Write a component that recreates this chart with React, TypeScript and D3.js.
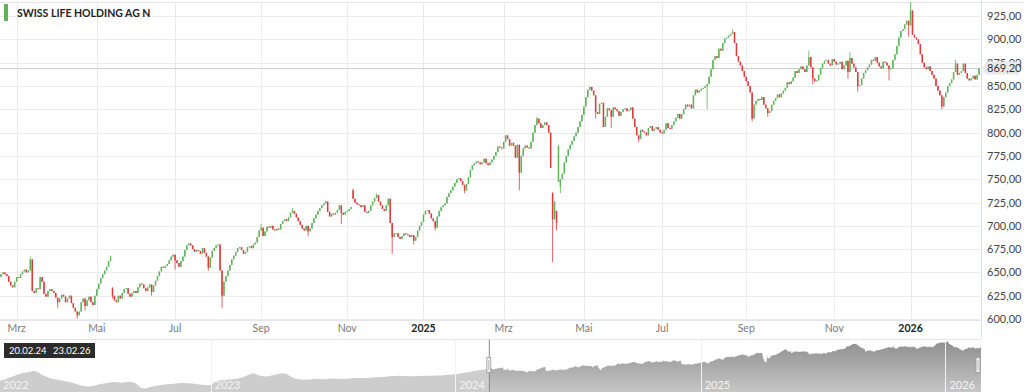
import * as d3 from "d3";
import { useEffect, useRef } from "react";

// trading calendar of the shown window (SIX)
const startDay = "2024-02-20";
const endDay = "2026-02-23";
const holidays = [
    "2024-03-29", "2024-04-01", "2024-05-01", "2024-05-09", "2024-05-20", "2024-08-01",
    "2024-12-24", "2024-12-25", "2024-12-26", "2024-12-31",
    "2025-01-01", "2025-01-02", "2025-04-18", "2025-04-21", "2025-05-01", "2025-05-29",
    "2025-06-09", "2025-08-01", "2025-12-24", "2025-12-25", "2025-12-26", "2025-12-31",
    "2026-01-01", "2026-01-02",
];

const seriesName = "SWISS LIFE HOLDING AG N";
const lastPrice = 869.2;

// daily closes
const closes = [
    648, 650, 648, 646, 640, 636, 634, 640, 645, 644,
    648, 651, 653, 650, 652, 664, 630, 628, 633, 632,
    645, 640, 627, 624, 630, 632, 630, 628, 623, 618,
    622, 626, 624, 618, 622, 625, 617, 612, 608, 604,
    608, 618, 622, 614, 620, 624, 618, 615, 625, 632,
    638, 644, 648, 652, 656, 662, 666, 625, 620, 618,
    625, 622, 628, 632, 633, 627, 624, 628, 630, 628,
    634, 638, 637, 633, 630, 634, 637, 629, 636, 641,
    646, 651, 656, 655, 657, 659, 663, 667, 669, 663,
    660, 656, 662, 667, 674, 679, 681, 679, 675, 672,
    674, 673, 670, 676, 671, 667, 655, 666, 673, 676,
    679, 680, 652, 625, 640, 646, 652, 658, 664, 668,
    672, 676, 677, 674, 670, 672, 677, 678, 676, 680,
    682, 688, 695, 698, 689, 694, 699, 698, 700, 696,
    695, 697, 696, 702, 705, 707, 705, 709, 714, 716,
    713, 709, 705, 701, 697, 695, 700, 694, 697, 703,
    708, 712, 716, 719, 722, 724, 726, 715, 710, 713,
    712, 714, 717, 722, 714, 712, 715, 716, 718, 720,
    729, 725, 723, 722, 720, 722, 715, 714, 716, 722,
    726, 730, 733, 726, 722, 718, 716, 722, 729, 703,
    688, 692, 692, 688, 686, 689, 692, 691, 690, 688,
    690, 684, 688, 695, 700, 704, 712, 716, 717, 713,
    708, 705, 698, 710, 716, 720, 722, 724, 731, 735,
    738, 742, 746, 750, 751, 748, 744, 738, 745, 752,
    760, 765, 767, 769, 768, 766, 768, 772, 767, 765,
    768, 771, 775, 779, 785, 784, 783, 790, 797, 793,
    786, 789, 786, 773, 787, 757, 775, 783, 786, 784,
    783, 790, 800, 808, 815, 810, 805, 808, 811, 808,
    800, 762, 707, 726, 703, 786, 750, 756, 768, 775,
    782, 787, 791, 796, 800, 806, 812, 819, 828, 838,
    846, 849, 845, 840, 822, 820, 831, 832, 806, 817,
    826, 824, 817, 827, 825, 823, 818, 822, 825, 826,
    823, 824, 827, 815, 806, 797, 793, 803, 801, 800,
    797, 805, 807, 802, 804, 806, 803, 800, 799, 803,
    810, 805, 804, 808, 812, 816, 820, 815, 820, 825,
    830, 828, 830, 826, 840, 846, 843, 845, 847, 848,
    850, 852, 860, 868, 878, 882, 880, 890, 888, 896,
    901, 902, 904, 906, 908, 896, 882, 876, 872, 866,
    860, 855, 850, 843, 815, 830, 834, 836, 835, 838,
    830, 826, 821, 823, 830, 834, 837, 841, 838, 842,
    845, 848, 854, 852, 855, 859, 866, 864, 868, 871,
    868, 865, 872, 881, 870, 858, 855, 856, 862, 869,
    874, 877, 878, 874, 872, 879, 876, 873, 874, 876,
    868, 872, 877, 865, 880, 874, 870, 865, 850, 851,
    858, 864, 867, 870, 873, 878, 877, 881, 875, 871,
    869, 876, 875, 872, 868, 869, 878, 884, 893, 902,
    909, 911, 916, 920, 915, 931, 905, 902, 900, 895,
    884, 875, 870, 868, 871, 866, 862, 858, 850, 845,
    840, 828, 838, 843, 850, 853, 857, 865, 874, 862,
    864, 866, 874, 864, 858, 856, 858, 861, 857, 862,
    869.2,
];

// days that opened away from the previous close: [index, open]
const gapOpens: [number, number][] = [
    [0, 645], [57, 633], [180, 738], [282, 735], [284, 716], [285, 747], [286, 742],
];

// visible wicks: [index, high, low]
const wicks: [number, number | null, number | null][] = [
    [15, 667, null], [29, null, 612], [39, null, 600.5], [43, null, 609], [56, 668, null],
    [57, 634, 622], [77, null, 625], [89, null, 653], [106, null, 652], [113, null, 612],
    [133, 702, null], [149, 719, null], [157, null, 689], [166, 727, null], [174, null, 702],
    [180, 740, null], [192, 735, null], [200, null, 670], [211, null, 680], [222, null, 695],
    [237, null, 735], [265, null, 738], [274, 817, null], [282, 736, 661], [283, null, 715],
    [284, null, 695], [286, null, 735], [304, null, 815], [312, null, 805], [326, null, 790],
    [361, null, 825], [374, 911, null], [384, null, 812], [392, null, 817], [413, 888, null],
    [415, null, 852], [433, null, 858], [434, 886, null], [438, null, 844], [454, null, 856],
    [464, null, 903], [465, 940, null], [481, null, 825], [488, 878, null],
];

const yTicks = [600, 625, 650, 675, 700, 725, 750, 775, 800, 825, 850, 875, 900, 925];
const monthNames = ["Jan", "Feb", "Mrz", "Apr", "Mai", "Jun", "Jul", "Aug", "Sep", "Okt", "Nov", "Dez"];

// navigator history before the window, weekly from this Monday
const navStart = "2022-02-21";
const navWeekly = [
    518, 530, 552, 568, 588, 598, 606, 620, 612, 578,
    556, 540, 530, 520, 512, 502, 488, 470, 462, 458,
    465, 478, 488, 494, 506, 502, 498, 504, 508, 490,
    445, 436, 452, 464, 472, 478, 482, 486, 492, 494,
    492, 488, 480, 476, 474, 470, 514, 522, 527, 532,
    536, 544, 560, 580, 598, 576, 566, 562, 576, 586,
    596, 590, 560, 540, 530, 528, 532, 538, 536, 534,
    538, 542, 538, 535, 540, 545, 546, 544, 546, 550,
    554, 558, 561, 564, 568, 570, 567, 564, 566, 570,
    569, 570, 571, 572, 574, 577, 582, 587, 594, 602,
    610, 620, 628, 636, 642,
];

const green = "#5fb45b";
const red = "#e0393c";
const font = "Lato, 'Open Sans', sans-serif";

const plotLeft = 0;
const plotRight = 980;
const plotTop = 3;
const plotBottom = 320;
const navTop = 339.5;
const navBottom = 392;
const navRight = 981;

const fmtPrice = (v: number) => v.toFixed(2).replace(".", ",");
const fmtShort = d3.utcFormat("%d.%m.%y");

const CandleChart = () => {
    const ref = useRef<SVGSVGElement>(null);

    useEffect(() => {
        const svg = d3.select(ref.current);
        svg.selectAll("*").remove();

        const parseDay = d3.utcParse("%Y-%m-%d");
        const fmtDay = d3.utcFormat("%Y-%m-%d");
        const tradingDays = d3.utcDays(parseDay(startDay)!, d3.utcDay.offset(parseDay(endDay)!, 1))
            .filter(d => d.getUTCDay() % 6 !== 0 && !holidays.includes(fmtDay(d)));
        const n = Math.min(tradingDays.length, closes.length);

        const gapMap = new Map(gapOpens);
        const wickMap = new Map(wicks.map(([i, h, l]) => [i, [h, l]]));
        const candles = d3.range(n).map(i => {
            const close = closes[i];
            const open = gapMap.get(i) ?? (i > 0 ? closes[i - 1] : close);
            const w = wickMap.get(i);
            const high = Math.max(open, close, w?.[0] ?? -Infinity);
            const low = Math.min(open, close, w?.[1] ?? Infinity);
            return { i, date: tradingDays[i], open, high, low, close };
        });

        const x = d3.scaleBand<number>().domain(d3.range(n)).range([plotLeft, plotRight]);
        const y = d3.scaleLinear().domain([600, 925]).range([319, 16.1]);
        const bw = x.bandwidth();

        const monthTicks = d3.range(1, n).filter(i =>
            tradingDays[i].getUTCMonth() !== tradingDays[i - 1].getUTCMonth()
            && tradingDays[i].getUTCMonth() % 2 === 0);

        svg.append("rect").attr("width", 1024).attr("height", 392).attr("fill", "#fff");

        // grid
        const grid = svg.append("g").attr("stroke", "#ebebeb").attr("stroke-width", 1);
        grid.selectAll("line.h").data(yTicks).join("line")
            .attr("x1", plotLeft).attr("x2", plotRight)
            .attr("y1", d => Math.round(y(d)) + 0.5).attr("y2", d => Math.round(y(d)) + 0.5);
        grid.selectAll("line.v").data(monthTicks).join("line")
            .attr("x1", d => Math.round(x(d)! + bw / 2) + 0.5).attr("x2", d => Math.round(x(d)! + bw / 2) + 0.5)
            .attr("y1", plotTop).attr("y2", plotBottom);

        svg.append("line").attr("x1", 0).attr("x2", 1024).attr("y1", plotTop - 0.5).attr("y2", plotTop - 0.5)
            .attr("stroke", "#e3e6ec");
        svg.append("line").attr("x1", plotRight + 1.5).attr("x2", plotRight + 1.5).attr("y1", 0).attr("y2", 338)
            .attr("stroke", "#dde2ea");
        svg.append("line").attr("x1", 0).attr("x2", plotRight + 1).attr("y1", plotBottom + 0.5).attr("y2", plotBottom + 0.5)
            .attr("stroke", "#e3e6ec");

        // last price line
        svg.append("line").attr("x1", plotLeft).attr("x2", plotRight)
            .attr("y1", Math.round(y(lastPrice)) + 0.5).attr("y2", Math.round(y(lastPrice)) + 0.5)
            .attr("stroke", "#cfcfcf");

        // candles
        const cg = svg.append("g");
        cg.selectAll("line").data(candles).join("line")
            .attr("x1", d => x(d.i)! + bw / 2).attr("x2", d => x(d.i)! + bw / 2)
            .attr("y1", d => y(d.high)).attr("y2", d => y(d.low))
            .attr("stroke", d => d.close >= d.open ? green : red)
            .attr("stroke-width", 0.8);
        cg.selectAll("rect").data(candles).join("rect")
            .attr("x", d => x(d.i)! + bw / 2 - 0.75)
            .attr("width", 1.5)
            .attr("y", d => y(Math.max(d.open, d.close)))
            .attr("height", d => Math.max(1, Math.abs(y(d.open) - y(d.close))))
            .attr("fill", d => d.close >= d.open ? green : red);

        // y axis
        const yAxis = svg.append("g")
            .attr("transform", `translate(${plotRight + 2},0)`)
            .call(d3.axisRight(y).tickValues(yTicks).tickSize(0).tickPadding(5).tickFormat(d => fmtPrice(+d)));
        yAxis.select(".domain").remove();
        yAxis.selectAll("text").attr("font-family", font).attr("font-size", 11).attr("fill", "#444");

        // last price label, drawn over the axis as in the original
        const ly = y(lastPrice);
        svg.append("path")
            .attr("d", `M${plotRight + 2},${ly} L${plotRight + 6},${ly - 6.5} H1019 V${ly + 6.5} H${plotRight + 6} Z`)
            .attr("fill", "#e9e9e9");
        svg.append("text").attr("x", plotRight + 7).attr("y", ly).attr("dy", "0.35em")
            .attr("font-family", font).attr("font-size", 11).attr("fill", "#333")
            .text(fmtPrice(lastPrice));

        // x axis
        const xAxis = svg.append("g")
            .attr("transform", `translate(0,${plotBottom})`)
            .call(d3.axisBottom(x).tickValues(monthTicks).tickSize(0).tickPadding(5)
                .tickFormat(i => {
                    const d = tradingDays[i as number];
                    return d.getUTCMonth() === 0 ? String(d.getUTCFullYear()) : monthNames[d.getUTCMonth()];
                }));
        xAxis.select(".domain").remove();
        xAxis.selectAll<SVGTextElement, number>("text")
            .attr("font-family", font).attr("font-size", 10.5)
            .attr("fill", i => tradingDays[i].getUTCMonth() === 0 ? "#222" : "#7a7a7a")
            .attr("font-weight", i => tradingDays[i].getUTCMonth() === 0 ? 700 : 400);

        // legend
        svg.append("rect").attr("x", 4).attr("y", 4).attr("width", 4).attr("height", 17).attr("fill", green);
        svg.append("text").attr("x", 17).attr("y", 16.5)
            .attr("font-family", font).attr("font-size", 10.5).attr("font-weight", 700).attr("fill", "#222")
            .text(seriesName);

        // navigator
        const navStartDate = parseDay(navStart)!;
        const xNav = d3.scaleUtc().domain([navStartDate, tradingDays[n - 1]]).range([0, navRight]);
        const yNav = d3.scaleLinear().domain([400, 945]).range([navBottom, navTop + 0.5]);
        const navSeries = [
            ...navWeekly.map((v, w) => ({ date: d3.utcDay.offset(navStartDate, 7 * w), value: v })),
            ...candles.map(c => ({ date: c.date, value: c.close })),
        ];
        const winLeft = xNav(tradingDays[0]);
        const winRight = xNav(tradingDays[n - 1]) - 3;

        const defs = svg.append("defs");
        const grad = defs.append("linearGradient").attr("id", "navGrad").attr("x1", 0).attr("x2", 0).attr("y1", 0).attr("y2", 1);
        grad.append("stop").attr("offset", "0%").attr("stop-color", "#8f8f8f");
        grad.append("stop").attr("offset", "100%").attr("stop-color", "#c6c6c6");
        defs.append("clipPath").attr("id", "navOut").append("rect")
            .attr("x", 0).attr("y", navTop).attr("width", winLeft).attr("height", navBottom - navTop);
        defs.append("clipPath").attr("id", "navIn").append("rect")
            .attr("x", winLeft).attr("y", navTop).attr("width", navRight - winLeft).attr("height", navBottom - navTop);

        const area = d3.area<{ date: Date, value: number }>()
            .x(d => xNav(d.date)).y0(navBottom).y1(d => yNav(d.value));

        svg.append("path").datum(navSeries).attr("d", area).attr("fill", "#cdcdcd").attr("clip-path", "url(#navOut)");
        svg.append("path").datum(navSeries).attr("d", area).attr("fill", "url(#navGrad)").attr("clip-path", "url(#navIn)");

        svg.append("line").attr("x1", 0).attr("x2", navRight).attr("y1", navTop).attr("y2", navTop).attr("stroke", "#e3e6ec");

        const years = d3.utcYears(d3.utcYear.ceil(navStartDate), tradingDays[n - 1]);
        svg.selectAll("line.year").data(years).join("line")
            .attr("x1", d => Math.round(xNav(d)) + 0.5).attr("x2", d => Math.round(xNav(d)) + 0.5)
            .attr("y1", navTop).attr("y2", navBottom)
            .attr("stroke", "#f2f2f2").attr("stroke-width", 1);
        svg.selectAll("text.year").data([d3.utcYear.floor(navStartDate), ...years]).join("text")
            .attr("x", d => Math.max(3, xNav(d) + 4)).attr("y", 389)
            .attr("font-family", font).attr("font-size", 11).attr("fill", "#f4f4f4")
            .text(d => d.getUTCFullYear());

        // window edges and handles
        svg.append("line").attr("x1", winLeft + 0.5).attr("x2", winLeft + 0.5).attr("y1", navTop).attr("y2", navBottom)
            .attr("stroke", "#8a8a8a");
        [winLeft, winRight].forEach(hx => {
            svg.append("rect").attr("x", hx - 2).attr("y", 357.5).attr("width", 4).attr("height", 15)
                .attr("fill", "#f2f2f2").attr("stroke", "#999").attr("stroke-width", 0.8);
            svg.append("line").attr("x1", hx).attr("x2", hx).attr("y1", 360).attr("y2", 370)
                .attr("stroke", "#999").attr("stroke-width", 0.6);
        });

        // range label
        svg.append("rect").attr("x", 4).attr("y", 343).attr("width", 91).attr("height", 15).attr("fill", "#2b2b2b");
        svg.append("text").attr("x", 9).attr("y", 354)
            .attr("font-family", font).attr("font-size", 9.5).attr("fill", "#fff")
            .text(fmtShort(tradingDays[0]));
        svg.append("text").attr("x", 53).attr("y", 354)
            .attr("font-family", font).attr("font-size", 9.5).attr("fill", "#fff")
            .text(fmtShort(tradingDays[n - 1]));
    }, []);

    return <svg ref={ref} width={1024} height={392} style={{ position: "absolute", left: 0, top: 0 }} />;
};

export default function App() {
    return <CandleChart />;
}
